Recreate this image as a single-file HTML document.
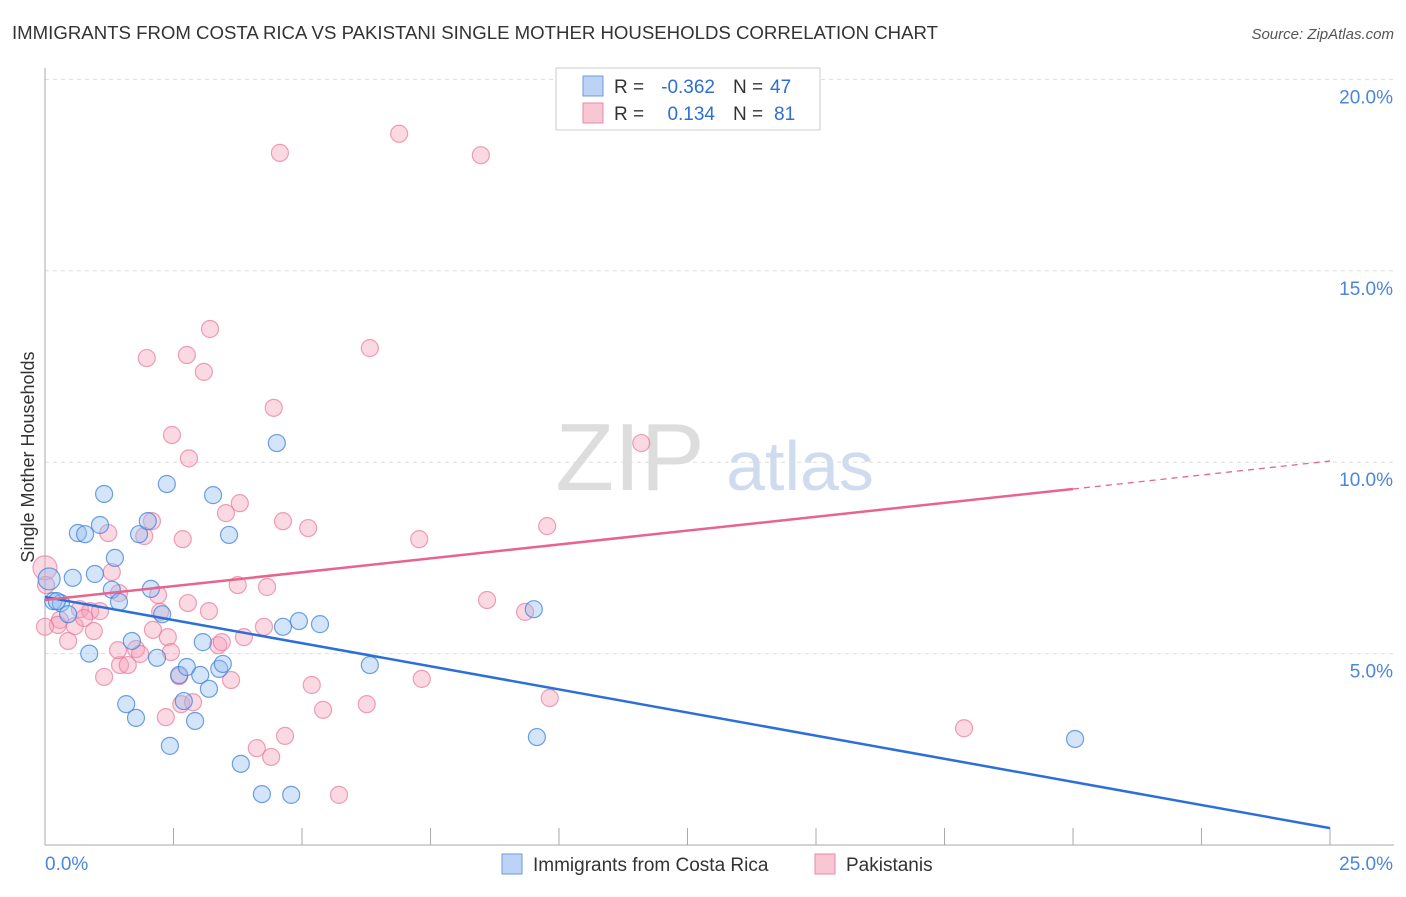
<!DOCTYPE html>
<html><head><meta charset="utf-8"><style>
body{margin:0;background:#fff;font-family:"Liberation Sans",sans-serif;}
svg text{font-family:"Liberation Sans",sans-serif;}
</style></head><body>
<svg id="c" width="1406" height="892" xmlns="http://www.w3.org/2000/svg">
<text x="12" y="39" font-size="18" fill="#333" textLength="926" lengthAdjust="spacingAndGlyphs">IMMIGRANTS FROM COSTA RICA VS PAKISTANI SINGLE MOTHER HOUSEHOLDS CORRELATION CHART</text>
<text x="1394" y="39" font-size="15" fill="#555" font-style="italic" text-anchor="end">Source: ZipAtlas.com</text>
<text x="34" y="457" font-size="18" fill="#333" transform="rotate(-90 34 457)" text-anchor="middle">Single Mother Households</text>
<text x="630" y="490" font-size="96" fill="#ddd" font-family="Liberation Serif" text-anchor="middle">ZIP</text>
<text x="800" y="490" font-size="70" fill="#cfdcef" text-anchor="middle">atlas</text>
<g id="grid"></g><g id="pts"></g><g id="lines"></g>
<g>
<rect x="556" y="68" width="264" height="62" fill="#fff" stroke="#ccc"/>
<rect x="583" y="76" width="20" height="20" fill="#bcd3f5" stroke="#6a9be0"/>
<rect x="583" y="103" width="20" height="20" fill="#f9c6d4" stroke="#e88aa8"/>
<text x="614" y="93" font-size="19" fill="#333">R =</text>
<text x="715" y="93" font-size="19" fill="#2e6fd6" text-anchor="end">-0.362</text>
<text x="733" y="93" font-size="19" fill="#333">N =</text>
<text x="770" y="93" font-size="19" fill="#2e6fd6">47</text>
<text x="614" y="120" font-size="19" fill="#333">R =</text>
<text x="715" y="120" font-size="19" fill="#2e6fd6" text-anchor="end">0.134</text>
<text x="733" y="120" font-size="19" fill="#333">N =</text>
<text x="774" y="120" font-size="19" fill="#2e6fd6">81</text>
</g>
<g>
<rect x="502" y="854" width="20" height="20" fill="#bcd3f5" stroke="#6a9be0"/>
<text x="533" y="871" font-size="19" fill="#333">Immigrants from Costa Rica</text>
<rect x="815" y="854" width="20" height="20" fill="#f9c6d4" stroke="#e88aa8"/>
<text x="846" y="871" font-size="19" fill="#333">Pakistanis</text>
</g>
</svg>
<script>
const yTicks=[5,10,15,20];
const yTickLabels=["5.0%","10.0%","15.0%","20.0%"];
const xTickLabels=["0.0%","25.0%"];
const blueX=[1.15,0.64,0.78,1.07,1.36,0.54,0.97,0.08,0.16,0.31,0.45,1.30,1.44,1.83,2.00,2.37,3.27,3.58,2.06,2.28,1.69,2.18,0.86,1.58,1.77,2.43,2.61,2.70,2.76,2.92,3.07,3.02,3.19,3.39,3.46,4.51,4.63,4.94,5.35,6.32,9.51,9.57,3.81,4.22,4.79,20.04,0.23];
const blueY=[9.17,8.15,8.12,8.36,7.50,6.98,7.08,6.95,6.37,6.32,6.03,6.67,6.35,8.12,8.46,9.43,9.14,8.10,6.69,6.03,5.33,4.89,5.00,3.68,3.32,2.59,4.44,3.76,4.65,3.24,5.30,4.44,4.08,4.60,4.73,10.50,5.70,5.85,5.77,4.70,6.16,2.82,2.12,1.33,1.31,2.77,6.37];
const pinkX=[0,0.02,0.29,0.25,0.45,0.58,0.68,0.95,0.88,1.07,0.76,1.30,1.23,1.44,1.15,1.46,1.61,1.42,1.77,1.85,1.93,2.08,2.20,2.10,2.24,2.39,2.45,2.68,2.61,2.78,2.65,2.88,2.35,1.98,2.47,2.76,2.80,3.09,3.21,3.19,3.37,3.44,3.52,3.62,3.79,3.75,3.87,4.32,4.26,4.12,4.40,4.45,4.57,4.63,4.67,5.12,5.19,5.41,5.72,6.26,6.32,6.89,7.28,7.33,8.48,8.60,9.34,9.77,9.82,11.60,17.88,0];
const pinkY=[7.24,6.79,5.88,5.75,5.33,5.72,6.16,5.59,6.11,6.11,5.93,7.13,8.15,6.58,4.39,4.70,4.70,5.09,5.12,4.99,8.07,8.46,6.53,5.62,6.09,5.43,5.04,7.99,4.41,6.32,3.68,3.73,3.34,12.72,10.71,12.80,10.10,12.36,13.48,6.11,5.22,5.30,8.67,4.31,8.93,6.79,5.43,6.74,5.70,2.53,2.30,11.42,18.08,8.46,2.85,8.28,4.18,3.53,1.31,3.68,12.98,18.58,7.99,4.34,18.02,6.40,6.09,8.33,3.84,10.50,3.05,5.70];
const blueLine=[6.48,0.44];
const pinkLine=[6.40,9.30,10.03];
const X=v=>45+v*51.4, Y=v=>845-v*38.28;
const ns="http://www.w3.org/2000/svg";
function mk(t,a,p){const e=document.createElementNS(ns,t);for(const k in a)e.setAttribute(k,a[k]);p.appendChild(e);return e;}
const g=document.getElementById('grid');
yTicks.forEach((t,i)=>{
 const l=mk('line',{x1:45,x2:1394,y1:Y(t),y2:Y(t),stroke:'#ddd','stroke-dasharray':'4,4'},g);
 
 
 const tx=mk('text',{x:1393,y:Y(t)+24,'font-size':19,fill:'#4a86d9','text-anchor':'end'},g);tx.textContent=yTickLabels[i];
 
 
});
const ax=mk('line',{x1:45,x2:45,y1:68,y2:845,stroke:'#aaa'},g);


const bx=mk('line',{x1:45,x2:1394,y1:845,y2:845,stroke:'#aaa'},g);


for(let i=1;i<=10;i++){const t=mk('line',{x1:X(i*2.5),x2:X(i*2.5),y1:828,y2:845,stroke:'#aaa'},g);
 
 }
[[0,'start',45],[25,'end',1393]].forEach((d,i)=>{const t=mk('text',{x:d[2],y:870,'font-size':19,fill:'#4a86d9','text-anchor':d[1]},g);t.textContent=xTickLabels[i];
 
 });
const p=document.getElementById('pts');
pinkX.forEach((x,i)=>{const c=mk('circle',{cx:X(x),cy:Y(pinkY[i]),r:i==0?12:8.5,fill:'rgba(246,160,185,0.4)',stroke:'rgba(232,120,155,0.7)','stroke-width':1.2},p);
 
 });
blueX.forEach((x,i)=>{const c=mk('circle',{cx:X(x),cy:Y(blueY[i]),r:i==7?11:8.5,fill:'rgba(150,190,240,0.4)',stroke:'rgba(60,130,220,0.75)','stroke-width':1.2},p);
 
 });
const L=document.getElementById('lines');
const b=mk('line',{x1:X(0),y1:Y(blueLine[0]),x2:X(25),y2:Y(blueLine[1]),stroke:'#2c6fd8','stroke-width':2.5},L);


const pk=mk('line',{x1:X(0),y1:Y(pinkLine[0]),x2:X(20),y2:Y(pinkLine[1]),stroke:'#e8648e','stroke-width':2.5},L);


const pd=mk('line',{x1:X(20),y1:Y(pinkLine[1]),x2:X(25),y2:Y(pinkLine[2]),stroke:'#e8648e','stroke-width':1.3,'stroke-dasharray':'6,5'},L);


</script>
</body></html>
